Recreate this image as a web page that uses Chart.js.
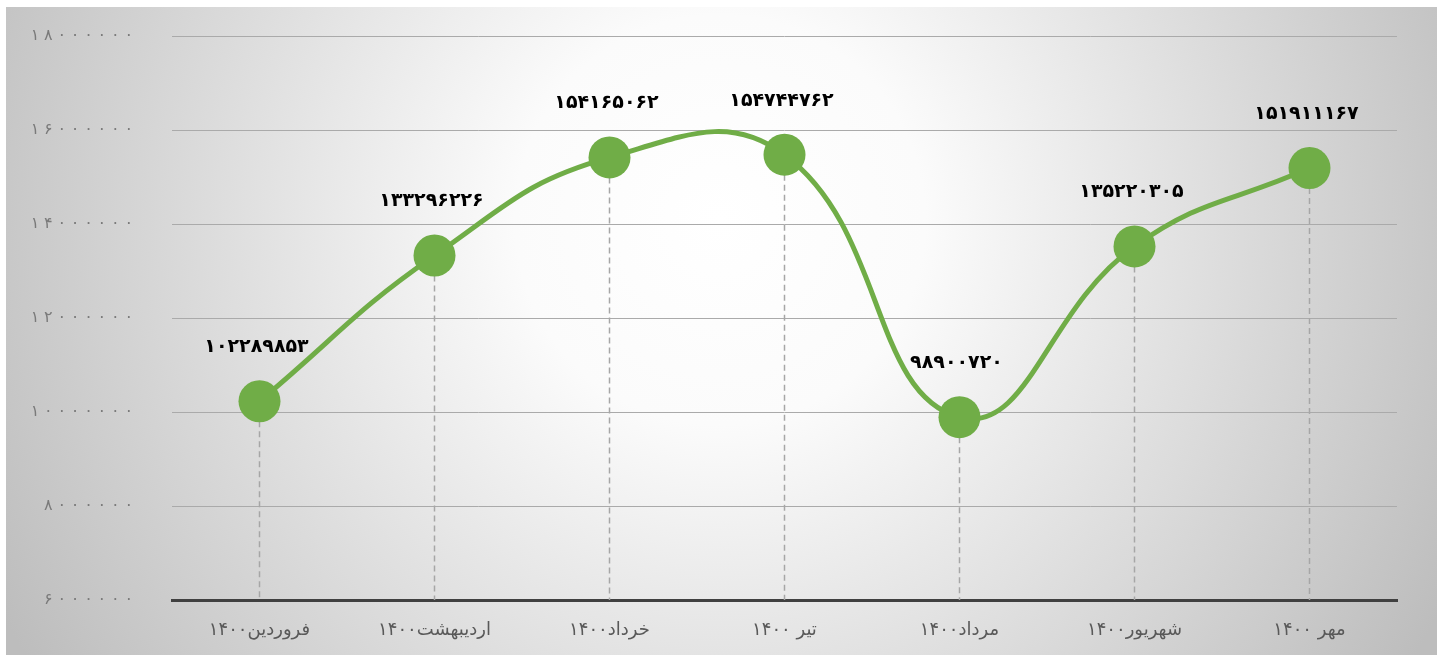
<!DOCTYPE html>
<html>
<head>
<meta charset="utf-8">
<script src="https://cdn.jsdelivr.net/npm/chart.js@4"></script>
<style>
  html, body { margin: 0; padding: 0; background: #fff; }
  #wrap { width: 1442px; height: 655px; }
</style>
</head>
<body>
<div id="wrap"><canvas id="line-graph"></canvas></div>
<script>
const months = [
  "فروردین۱۴۰۰",
  "اردیبهشت۱۴۰۰",
  "خرداد۱۴۰۰",
  "تیر ۱۴۰۰",
  "مرداد۱۴۰۰",
  "شهریور۱۴۰۰",
  "مهر ۱۴۰۰",
];
const sales = [10228985.3, 13329622.6, 15416506.2, 15474476.2, 9890072.0, 13522030.5, 15191116.7];
const yTicks = [6000000, 8000000, 10000000, 12000000, 14000000, 16000000, 18000000];

const faDigits = "۰۱۲۳۴۵۶۷۸۹";
function toFa(s) {
  return String(s).replace(/[0-9]/g, (d) => faDigits[d]);
}

// grey radial background like the original slide
const bgPlugin = {
  id: "bg",
  beforeDraw(chart) {
    const ctx = chart.ctx;
    ctx.save();
    ctx.fillStyle = "#ffffff";
    ctx.fillRect(0, 0, chart.width, chart.height);
    const g = ctx.createRadialGradient(720, 220, 0, 720, 220, 820);
    g.addColorStop(0, "#ffffff");
    g.addColorStop(0.25, "#fbfbfb");
    g.addColorStop(1, "#bdbdbd");
    ctx.fillStyle = g;
    ctx.fillRect(6, 7, 1431, 648);
    ctx.restore();
  },
};

// dashed drop lines, value labels, spaced-out y tick labels
const markPlugin = {
  id: "marks",
  beforeDatasetsDraw(chart) {
    const ctx = chart.ctx;
    const meta = chart.getDatasetMeta(0);
    const bottom = chart.chartArea.bottom;
    ctx.save();
    ctx.strokeStyle = "#a6a6a6";
    ctx.lineWidth = 1.5;
    ctx.setLineDash([6, 4]);
    meta.data.forEach((pt) => {
      ctx.beginPath();
      ctx.moveTo(pt.x, pt.y);
      ctx.lineTo(pt.x, bottom);
      ctx.stroke();
    });
    ctx.restore();
  },
  afterDatasetsDraw(chart) {
    const ctx = chart.ctx;
    const meta = chart.getDatasetMeta(0);
    ctx.save();
    ctx.fillStyle = "#000000";
    ctx.font = "bold 19px 'DejaVu Sans'";
    ctx.textAlign = "center";
    ctx.textBaseline = "middle";
    meta.data.forEach((pt, i) => {
      const txt = toFa(sales[i].toFixed(1).replace(".", ""));
      ctx.fillText(txt, pt.x - 3, pt.y - 54);
    });
    ctx.restore();
  },
  afterDraw(chart) {
    const ctx = chart.ctx;
    const y = chart.scales.y;
    ctx.save();
    ctx.fillStyle = "#7a7a7a";
    ctx.font = "16px 'DejaVu Sans'";
    ctx.textAlign = "right";
    ctx.textBaseline = "middle";
    y.ticks.forEach((t) => {
      const s = toFa(t.value);
      const py = y.getPixelForValue(t.value);
      let px = chart.chartArea.left - 39;
      for (let i = s.length - 1; i >= 0; i--) {
        ctx.fillText(s[i], px, py);
        px -= ctx.measureText(s[i]).width + 4.8;
      }
    });
    ctx.restore();
  },
};

const lineChart = document.getElementById("line-graph").getContext("2d");
let salesChart = new Chart(lineChart, {
  type: "line",
  data: {
    labels: months,
    datasets: [
      {
        label: "فروش",
        data: sales,
        tension: 0.45,
        borderColor: "#70ad47",
        borderWidth: 5,
        backgroundColor: "#70ad47",
        pointRadius: 21,
        pointHoverRadius: 21,
        pointBorderWidth: 0,
        pointBackgroundColor: "#70ad47",
      },
    ],
  },
  options: {
    responsive: true,
    maintainAspectRatio: false,
    animation: false,
    layout: {
      padding: { top: 36, right: 45, left: 0, bottom: 0 },
    },
    plugins: {
      legend: { display: false },
      tooltip: { enabled: false },
    },
    scales: {
      x: {
        offset: true,
        grid: { display: false, drawTicks: false },
        border: { display: true, color: "#404040", width: 3 },
        ticks: {
          color: "#595959",
          font: { family: "DejaVu Sans", size: 18 },
          padding: 20,
          maxRotation: 0,
        },
        afterFit(scale) {
          scale.height = 55;
        },
      },
      y: {
        min: 6000000,
        max: 18000000,
        afterBuildTicks(scale) {
          scale.ticks = yTicks.map((v) => ({ value: v }));
        },
        grid: { color: "#aaaaaa", lineWidth: 1, drawTicks: false },
        border: { display: false },
        ticks: { display: false },
        afterFit(scale) {
          scale.width = 172;
        },
      },
    },
  },
  plugins: [bgPlugin, markPlugin],
});
</script>
</body>
</html>
